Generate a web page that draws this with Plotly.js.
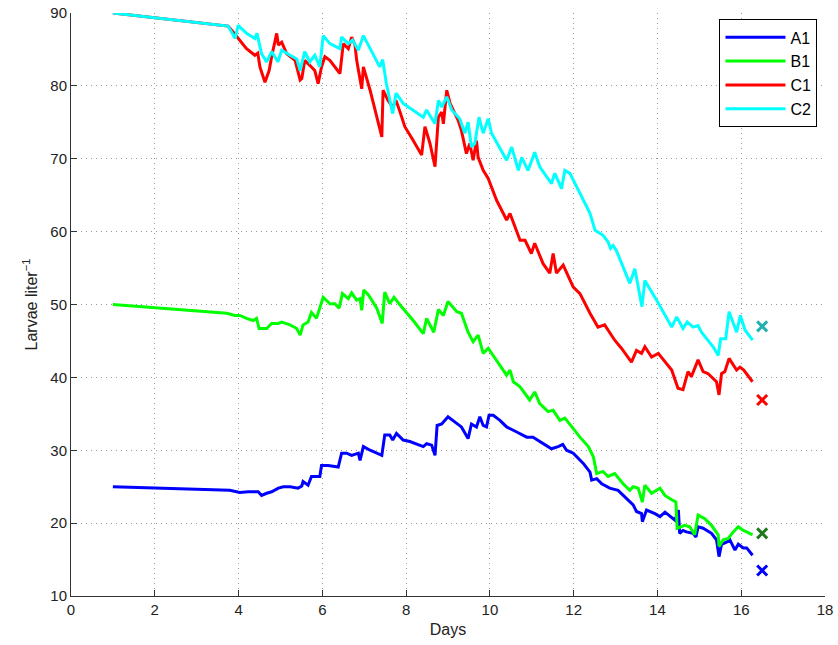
<!DOCTYPE html>
<html>
<head>
<meta charset="utf-8">
<script src="https://cdn.plot.ly/plotly-3.0.1.min.js"></script>
<style>
  html, body { margin: 0; padding: 0; background: #fff; }
  #chart { width: 838px; height: 645px; }
</style>
</head>
<body>
<div id="chart"></div>
<script>
// Larvae density (per liter) over days for four tanks
const daysA1 = [1, 3.79, 4.03, 4.23, 4.47, 4.55, 4.67, 4.79, 4.95, 5.07,
  5.23, 5.42, 5.51, 5.54, 5.66, 5.74, 5.94, 5.98, 6.14, 6.38,
  6.46, 6.58, 6.70, 6.86, 6.90, 6.98, 7.14, 7.42, 7.49, 7.61,
  7.68, 7.77, 7.93, 8.09, 8.41, 8.49, 8.61, 8.69, 8.74, 8.85,
  9.00, 9.12, 9.32, 9.48, 9.56, 9.68, 9.76, 9.84, 9.92, 9.98,
  10.08, 10.24, 10.40, 10.64, 10.88, 11.03, 11.27, 11.47, 11.63, 11.74,
  11.83, 11.99, 12.23, 12.39, 12.43, 12.55, 12.67, 12.86, 13.06, 13.30,
  13.42, 13.50, 13.62, 13.64, 13.74, 13.94, 14.06, 14.18, 14.42, 14.50,
  14.53, 14.61, 14.69, 14.85, 14.92, 14.97, 15.09, 15.29, 15.41, 15.47,
  15.53, 15.65, 15.73, 15.85, 15.93, 16.05, 16.13, 16.27];
const larvaeA1 = [25.0, 24.5, 24.2, 24.3, 24.3, 23.8, 24.1, 24.3, 24.8, 25.0,
  25.0, 24.8, 25.1, 25.7, 25.2, 26.4, 26.4, 27.9, 27.9, 27.7,
  29.6, 29.6, 29.3, 29.6, 28.6, 30.5, 30.0, 29.3, 32.1, 32.1,
  31.4, 32.3, 31.4, 31.2, 30.5, 30.9, 30.7, 29.3, 33.4, 33.6,
  34.6, 34.1, 33.2, 31.6, 33.6, 33.2, 34.6, 33.4, 33.2, 34.8,
  34.8, 34.1, 33.2, 32.5, 31.8, 31.8, 30.9, 30.2, 30.5, 30.8,
  30.0, 29.6, 28.2, 27.0, 25.9, 26.1, 25.4, 24.8, 24.5, 23.2,
  22.5, 21.6, 21.3, 20.2, 21.8, 21.3, 20.9, 21.5, 20.4, 21.8,
  18.6, 19.0, 18.8, 18.6, 18.1, 19.5, 19.3, 18.6, 17.7, 15.4,
  17.1, 17.4, 17.7, 16.3, 17.1, 16.6, 16.6, 15.6];

const daysB1 = [1, 3.72, 3.91, 4.03, 4.19, 4.35, 4.43, 4.49, 4.67, 4.79,
  4.95, 5.03, 5.23, 5.39, 5.47, 5.54, 5.66, 5.74, 5.86, 6.02,
  6.18, 6.30, 6.40, 6.48, 6.62, 6.70, 6.82, 6.90, 6.94, 6.99,
  7.10, 7.30, 7.43, 7.49, 7.61, 7.71, 7.89, 8.17, 8.41, 8.49,
  8.66, 8.77, 8.89, 9.00, 9.21, 9.32, 9.48, 9.60, 9.72, 9.84,
  9.96, 10.08, 10.40, 10.48, 10.56, 10.72, 10.95, 11.07, 11.19, 11.39,
  11.51, 11.67, 11.79, 12.15, 12.35, 12.47, 12.55, 12.70, 12.82, 12.98,
  13.18, 13.34, 13.42, 13.54, 13.64, 13.70, 13.86, 14.06, 14.18, 14.34,
  14.44, 14.47, 14.65, 14.77, 14.89, 14.97, 15.13, 15.29, 15.45, 15.47,
  15.57, 15.69, 15.81, 15.93, 16.05, 16.13, 16.27];
const larvaeB1 = [50.0, 48.8, 48.5, 48.5, 48.1, 47.8, 48.1, 46.7, 46.7, 47.4,
  47.4, 47.6, 47.2, 46.7, 45.8, 47.2, 47.6, 48.9, 48.1, 51.0,
  50.1, 50.1, 49.5, 51.5, 50.8, 51.6, 50.6, 50.8, 49.2, 52.0,
  51.3, 49.5, 47.4, 51.7, 50.1, 51.0, 49.7, 47.8, 46.0, 48.1,
  46.2, 49.3, 48.5, 50.4, 49.0, 48.8, 46.2, 44.9, 45.8, 43.3,
  44.0, 43.0, 40.3, 41.0, 39.4, 38.7, 36.9, 38.0, 36.4, 35.3,
  35.5, 34.1, 34.4, 31.8, 30.5, 29.1, 26.8, 27.1, 26.4, 26.8,
  25.4, 24.5, 25.0, 24.8, 22.9, 25.2, 24.1, 24.8, 23.8, 23.2,
  22.9, 19.3, 19.7, 19.5, 18.4, 21.1, 20.6, 19.7, 18.4, 16.8,
  17.7, 17.9, 18.8, 19.5, 19.0, 18.8, 18.4];

const daysC1 = [1, 3.75, 3.87, 4.03, 4.19, 4.39, 4.46, 4.51, 4.63, 4.73,
  4.79, 4.91, 4.95, 5.03, 5.15, 5.35, 5.47, 5.51, 5.58, 5.74,
  5.82, 5.90, 5.98, 6.06, 6.18, 6.42, 6.50, 6.62, 6.70, 6.78,
  6.82, 6.94, 6.98, 7.14, 7.42, 7.45, 7.57, 7.68, 7.76, 7.85,
  7.97, 8.17, 8.37, 8.45, 8.57, 8.69, 8.77, 8.85, 8.89, 8.97,
  9.05, 9.24, 9.32, 9.44, 9.52, 9.60, 9.68, 9.72, 9.84, 9.96,
  10.16, 10.40, 10.48, 10.72, 10.84, 10.99, 11.07, 11.27, 11.43, 11.51,
  11.59, 11.75, 11.99, 12.15, 12.39, 12.58, 12.74, 12.98, 13.14, 13.38,
  13.50, 13.62, 13.70, 13.86, 14.02, 14.34, 14.49, 14.61, 14.73, 14.81,
  14.97, 15.09, 15.21, 15.41, 15.47, 15.53, 15.61, 15.71, 15.81, 15.89,
  15.97, 16.06, 16.27];
const larvaeC1 = [90, 88.2, 87.4, 86.3, 85.1, 84.2, 84.5, 82.6, 80.5, 82.1,
  84.0, 87.2, 85.6, 86.0, 84.4, 83.5, 80.8, 81.0, 83.5, 82.6,
  82.1, 80.3, 82.6, 84.0, 83.5, 81.7, 85.8, 85.1, 86.7, 85.6,
  83.5, 79.6, 82.6, 79.4, 73.0, 79.4, 78.0, 77.1, 78.0, 76.5,
  74.4, 72.5, 70.5, 74.4, 72.1, 68.9, 75.7, 76.4, 74.8, 79.4,
  77.6, 75.3, 73.9, 70.7, 72.1, 69.8, 72.5, 70.2, 68.4, 67.3,
  64.3, 61.6, 62.5, 58.8, 58.8, 57.0, 58.4, 55.6, 54.3, 57.0,
  54.3, 55.4, 52.4, 51.5, 48.8, 46.9, 47.2, 45.1, 44.0, 42.1,
  43.7, 43.3, 44.2, 42.8, 43.3, 41.0, 38.5, 38.3, 40.8, 40.1,
  42.4, 40.8, 40.5, 39.4, 37.6, 40.5, 40.8, 42.6, 41.7, 41.0,
  41.4, 41.0, 39.4];

const daysC2 = [1, 3.75, 3.92, 3.99, 4.19, 4.39, 4.44, 4.55, 4.67, 4.79,
  4.94, 5.03, 5.23, 5.39, 5.47, 5.58, 5.70, 5.82, 5.94, 6.02,
  6.18, 6.42, 6.46, 6.62, 6.72, 6.86, 6.98, 7.14, 7.37, 7.44,
  7.53, 7.68, 7.76, 7.93, 8.41, 8.49, 8.69, 8.77, 8.85, 8.97,
  9.09, 9.28, 9.40, 9.48, 9.56, 9.64, 9.74, 9.84, 9.96, 10.04,
  10.40, 10.52, 10.68, 10.76, 10.91, 11.07, 11.19, 11.47, 11.55, 11.71,
  11.79, 11.91, 11.99, 12.39, 12.51, 12.70, 12.82, 12.88, 12.94, 13.02,
  13.34, 13.46, 13.63, 13.70, 13.98, 14.34, 14.46, 14.61, 14.71, 14.85,
  14.97, 15.05, 15.33, 15.45, 15.51, 15.63, 15.71, 15.89, 15.98, 16.09,
  16.27];
const larvaeC2 = [90, 88.2, 86.5, 88.3, 87.2, 86.5, 87.2, 84.4, 83.3, 84.7,
  83.3, 84.9, 84.2, 83.7, 82.1, 84.7, 83.3, 84.2, 82.6, 86.9,
  85.8, 85.1, 86.7, 85.8, 86.3, 84.9, 86.9, 85.1, 82.6, 83.6,
  80.3, 76.2, 79.0, 77.6, 75.7, 76.7, 74.8, 78.0, 77.1, 78.5,
  76.7, 75.5, 73.5, 75.0, 71.6, 72.1, 75.7, 73.5, 75.5, 73.5,
  69.8, 71.6, 68.4, 70.2, 68.4, 70.9, 68.9, 66.6, 68.0, 65.9,
  68.4, 68.0, 67.1, 62.5, 60.2, 59.5, 58.6, 57.7, 58.1, 57.4,
  52.9, 54.9, 49.7, 53.3, 50.6, 46.9, 48.3, 46.7, 47.6, 46.9,
  47.1, 46.2, 44.2, 43.0, 45.3, 45.3, 49.0, 46.2, 48.5, 46.5,
  45.1];

// Single end-point values marked with crosses
const finalDay = [16.5];
const finalA1 = [13.5];
const finalB1 = [18.6];
const finalC1 = [36.9];
const finalC2 = [47.0];

const seriesNames = ['A1', 'B1', 'C1', 'C2'];
const lineColors = ['#0000ff', '#00ff00', '#ff0000', '#00ffff'];
const crossColors = ['#0000ff', '#1f7a1f', '#ff0000', '#22b0b0'];

const lineDays = [daysA1, daysB1, daysC1, daysC2];
const lineVals = [larvaeA1, larvaeB1, larvaeC1, larvaeC2];
const finalVals = [finalA1, finalB1, finalC1, finalC2];

const traces = [];
seriesNames.forEach((name, i) => {
  traces.push({
    x: lineDays[i], y: lineVals[i], name: name, type: 'scatter', mode: 'lines',
    line: { color: lineColors[i], width: 3 }
  });
});
seriesNames.forEach((name, i) => {
  traces.push({
    x: finalDay, y: finalVals[i], name: name + ' final', type: 'scatter', mode: 'markers',
    showlegend: false,
    marker: { symbol: 'x-thin', size: 10, line: { color: crossColors[i], width: 3 } }
  });
});

const fontFam = 'Liberation Sans, Arial, Helvetica, sans-serif';

const layout = {
  width: 838, height: 645,
  margin: { l: 71, r: 13, t: 13, b: 49 },
  paper_bgcolor: '#ffffff', plot_bgcolor: '#ffffff',
  font: { family: fontFam, size: 15, color: '#222' },
  showlegend: true,
  legend: {
    x: 0.99, y: 0.989, xanchor: 'right', yanchor: 'top',
    bgcolor: '#ffffff', bordercolor: '#000', borderwidth: 1,
    itemwidth: 60,
    font: { family: fontFam, size: 16, color: '#000' }
  },
  xaxis: {
    range: [0, 18], tickmode: 'linear', tick0: 0, dtick: 2,
    showline: true, linecolor: '#333', linewidth: 1, mirror: false,
    ticks: 'inside', ticklen: 6, tickcolor: '#333',
    showgrid: true, gridcolor: '#999', griddash: '1px,4px', gridwidth: 1,
    zeroline: false,
    title: { text: 'Days', font: { family: fontFam, size: 16, color: '#222' }, standoff: 6 },
    tickfont: { family: fontFam, size: 15, color: '#222' }
  },
  yaxis: {
    range: [10, 90], tickmode: 'linear', tick0: 10, dtick: 10,
    showline: true, linecolor: '#333', linewidth: 1, mirror: false,
    ticks: 'inside', ticklen: 6, tickcolor: '#333',
    showgrid: true, gridcolor: '#999', griddash: '1px,4px', gridwidth: 1,
    zeroline: false,
    title: { text: 'Larvae liter<sup>\u22121</sup>', font: { family: fontFam, size: 16, color: '#222' }, standoff: 8 },
    tickfont: { family: fontFam, size: 15, color: '#222' }
  }
};

Plotly.newPlot('chart', traces, layout, { displayModeBar: false, staticPlot: true });
</script>
</body>
</html>
